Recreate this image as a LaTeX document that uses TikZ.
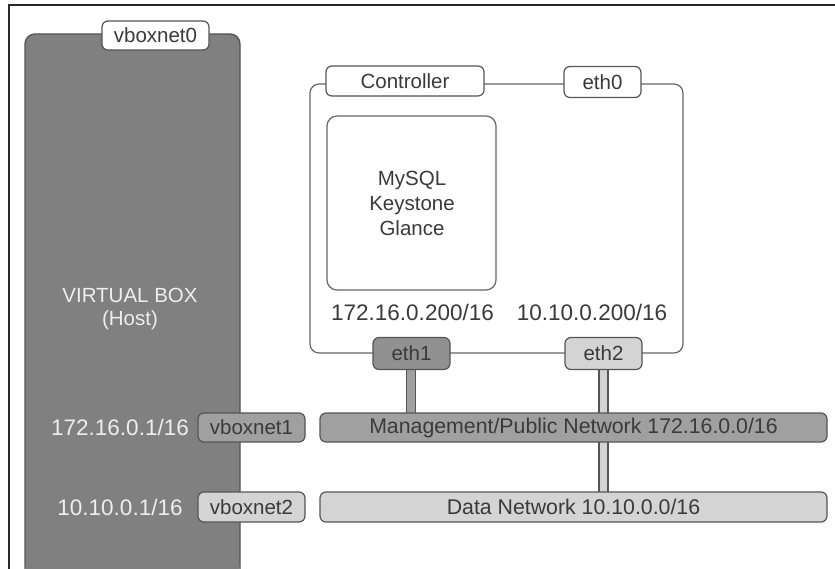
\documentclass[tikz,border=0pt]{standalone}
\usepackage{fontspec}
\setmainfont{Liberation Sans}
\definecolor{lineC}{HTML}{555555}
\definecolor{frameC}{HTML}{666666}
\definecolor{vbfill}{HTML}{808080}
\definecolor{darkfill}{HTML}{A0A0A0}
\definecolor{ethdark}{HTML}{919191}
\definecolor{lightfill}{HTML}{D4D4D4}
\definecolor{txt}{HTML}{3A3A3A}
\definecolor{lighttxt}{HTML}{EEEEEE}
\definecolor{outer}{HTML}{2A2A2A}
\tikzset{
  lbl/.style={draw=lineC, line width=1.2pt, rounded corners=6pt, text=txt,
    font=\fontsize{20.5}{24}\selectfont, inner sep=0pt, anchor=center},
  iptext/.style={text=txt, font=\fontsize{22.5}{26}\selectfont, inner sep=0pt},
  vbtext/.style={text=lighttxt, font=\fontsize{20.5}{25}\selectfont, inner sep=0pt, align=center},
  pipe/.style={line width=1.2pt, draw=lineC},
}
\begin{document}
\begin{tikzpicture}[x=1pt,y=-1pt]
\useasboundingbox (0,0) rectangle (835,569);
% outer frame
\draw[outer, line width=2pt] (9,575) -- (9,5) -- (840,5);
% virtual box body
\fill[vbfill, rounded corners=10pt] (25,575) -- (25,34) -- (240,34) -- (240,575) -- cycle;
\draw[lineC, line width=1.4pt, rounded corners=10pt] (25,575) -- (25,34) -- (240,34) -- (240,575);
\node[vbtext] (vbt) at (130,295) {VIRTUAL BOX};
\node[vbtext] (host) at (130,320) {(Host)};
\node[vbtext, font=\fontsize{22.5}{26}\selectfont] (ip1) at (120,427.5) {172.16.0.1/16};
\node[vbtext, font=\fontsize{22.5}{26}\selectfont] (ip2) at (120,507) {10.10.0.1/16};
% controller frame
\draw[frameC, line width=1.2pt, rounded corners=9pt] (310,84) rectangle (683,353);
% pipes (behind nodes)
\coordinate (p1a) at (411,360);
\coordinate (p2a) at (603.5,360);
\fill[darkfill] (406.5,360) rectangle (415.5,420);
\draw[pipe] (406.5,360) -- (406.5,420) (415.5,360) -- (415.5,420);
\fill[lightfill] (599,360) rectangle (608,500);
\draw[pipe] (599,360) -- (599,500) (608,360) -- (608,500);
% label nodes
\node[lbl, fill=white, minimum width=107pt, minimum height=29pt] (vb0) at (155.5,35.5) {vboxnet0};
\node[lbl, fill=white, minimum width=158pt, minimum height=30pt] (ctrl) at (405,81) {Controller};
\node[lbl, fill=white, minimum width=77pt, minimum height=31pt] (eth0) at (602.5,82) {eth0};
\node[draw=frameC, line width=1.2pt, rounded corners=10pt, fill=white, minimum width=169pt, minimum height=174pt, inner sep=0pt] (svc) at (411.5,203) {};
\node[text=txt, font=\fontsize{20.5}{25}\selectfont, align=center, inner sep=0pt] (svct) at (412,203) {MySQL\\Keystone\\Glance};
\node[iptext] (ipa) at (412.5,312) {172.16.0.200/16};
\node[iptext] (ipb) at (592,312) {10.10.0.200/16};
\node[lbl, fill=ethdark, minimum width=77pt, minimum height=32pt] (eth1) at (411.5,353.5) {eth1};
\node[lbl, fill=lightfill, minimum width=77pt, minimum height=32pt] (eth2) at (603.5,353.5) {eth2};
\node[lbl, fill=darkfill, minimum width=107pt, minimum height=29pt] (vb1) at (251.5,427.5) {vboxnet1};
\node[lbl, fill=darkfill, minimum width=507pt, minimum height=29pt, font=\fontsize{21.3}{24}\selectfont] (mgmt) at (573.5,427.5) {Management/Public Network 172.16.0.0/16};
\node[lbl, fill=lightfill, minimum width=107pt, minimum height=30pt] (vb2) at (251.5,507) {vboxnet2};
\node[lbl, fill=lightfill, minimum width=507pt, minimum height=30pt, font=\fontsize{21.3}{24}\selectfont] (data) at (573.5,507) {Data Network 10.10.0.0/16};
\end{tikzpicture}
\end{document}
